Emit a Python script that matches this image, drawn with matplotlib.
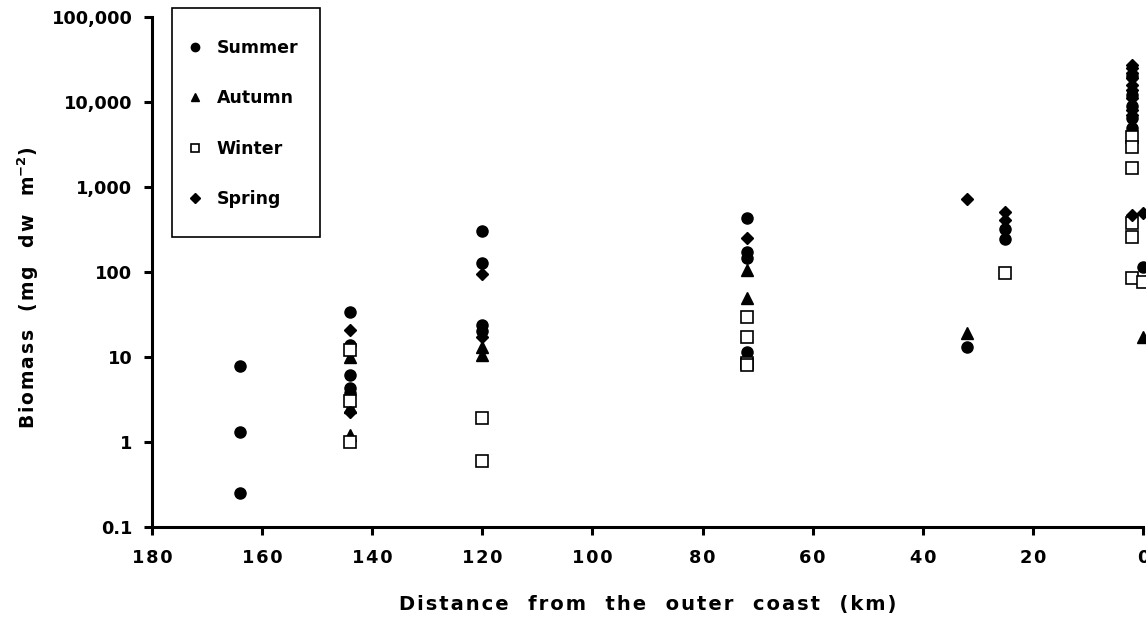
import matplotlib.pyplot as plt
from matplotlib.patches import Rectangle
from matplotlib.ticker import FixedLocator, FixedFormatter

plt.rcParams['font.family'] = ['DejaVu Sans']
plt.rcParams['font.weight'] = 'bold'
plt.rcParams['mathtext.default'] = 'bf'

# distance from outer coast (km) and biomass (mg dw m-2) per season
summer_x = [164, 164, 164, 144, 144, 144, 144, 144, 120, 120, 120, 120,
            72, 72, 72, 72, 32, 25, 25, 2, 2, 2, 2, 2, 0]
summer_y = [7.8, 1.3, 0.25, 34, 14, 6.1, 4.3, 3.8, 300, 128, 24, 20,
            430, 170, 145, 11.4, 13, 320, 245, 5000, 6500, 9000, 12000, 20000, 114]

autumn_x = [144, 144, 144, 120, 120, 72, 72, 32, 0]
autumn_y = [10, 2.6, 1.2, 13, 10.5, 106, 49, 19, 17]

winter_x = [144, 144, 144, 120, 120, 72, 72, 72, 72, 25, 2, 2, 2, 2, 2, 2, 0]
winter_y = [12, 3.0, 1.0, 1.9, 0.6, 29.5, 17, 8.5, 8, 97,
            3900, 2950, 1660, 375, 258, 85, 76]

spring_x = [144, 144, 120, 120, 72, 32, 25, 25, 2, 2, 2, 2, 2, 2, 2, 2, 2, 2, 0]
spring_y = [21, 2.25, 95, 17, 251, 724, 507, 408,
            27000, 25000, 22000, 19000, 16000, 14000, 11000, 8000, 7000, 470, 490]

y_ticks = [0.1, 1, 10, 100, 1000, 10000, 100000]
y_labels = ['0.1', '1', '10', '100', '1,000', '10,000', '100,000']
x_ticks = [180, 160, 140, 120, 100, 80, 60, 40, 20, 0]

fig = plt.figure(figsize=(11.46, 6.24), dpi=100)
ax = fig.add_axes([0.1326, 0.1554, 0.8648, 0.8174])

ax.plot(summer_x, summer_y, 'o', color='black', markersize=8, label='Summer', clip_on=False)
ax.plot(autumn_x, autumn_y, '^', color='black', markersize=8, label='Autumn', clip_on=False)
ax.plot(winter_x, winter_y, 's', markerfacecolor='white', markeredgecolor='black',
        markeredgewidth=1.2, markersize=8.5, label='Winter', clip_on=False)
ax.plot(spring_x, spring_y, 'D', color='black', markersize=6.5, label='Spring', clip_on=False)

ax.set_yscale('log')
ax.set_ylim(0.1, 100000)
ax.set_xlim(180, 0)
ax.yaxis.set_major_locator(FixedLocator(y_ticks))
ax.yaxis.set_major_formatter(FixedFormatter(y_labels))
ax.yaxis.set_minor_locator(FixedLocator([]))
ax.set_xticks(x_ticks)
ax.set_xticklabels(['\u200a'.join(str(t)) for t in x_ticks])

for s in ['top', 'right']:
    ax.spines[s].set_visible(False)
for s in ['left', 'bottom']:
    ax.spines[s].set_linewidth(2.2)
ax.tick_params(axis='both', width=2.2, length=6, labelsize=12.8)
ax.tick_params(axis='y', pad=8)
ax.tick_params(axis='x', pad=10)

xlab = 'Distance  from  the  outer  coast  (km)'
ax.set_xlabel('\u200a'.join(xlab), fontsize=14, fontweight='bold', labelpad=20)
ax.set_ylabel('\u200a'.join('Biomass  (mg  dw  m') + '$^{-2}$)', fontsize=13.5, fontweight='bold')
ax.yaxis.set_label_coords(-0.112, 0.47)

# legend box
box = Rectangle((0.1501, 0.6202), 0.1291, 0.367, transform=fig.transFigure,
                facecolor='white', edgecolor='black', linewidth=1.2, zorder=5, clip_on=False)
ax.add_patch(box)
leg = ax.legend(loc='upper left', bbox_to_anchor=(0.168, 0.9375), bbox_transform=fig.transFigure,
                fontsize=12.5, frameon=False, markerscale=0.75, handlelength=0.3,
                handletextpad=1.1, labelspacing=1.86, borderpad=0, borderaxespad=0)
leg.set_zorder(6)
for t in leg.get_texts():
    t.set_fontweight('bold')

fig.savefig('out.png', dpi=100)
